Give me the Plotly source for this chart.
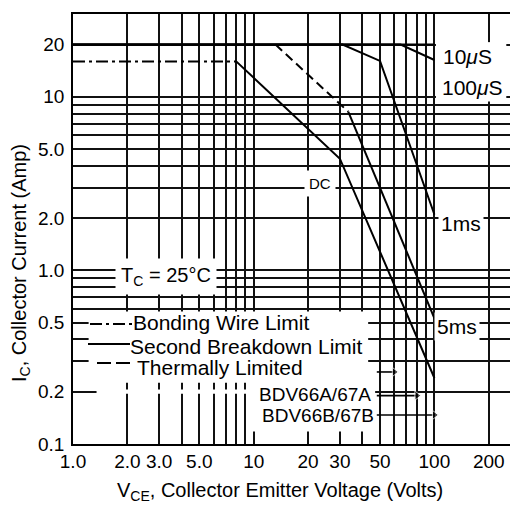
import math
import plotly.graph_objects as go

# ---------------- data ----------------
# Bonding-wire limit (DC, dash-dot)
bw_v = [1, 8]
bw_i = [16, 16]
# DC curve (solid) after the bonding wire limit
dc_v = [8, 30, 100]
dc_i = [16, 4.4, 0.24]
# 5 ms: thermally limited (dashed) then second breakdown (solid)
ms5_th_v = [13.2, 33.4]
ms5_th_i = [20, 8.2]
ms5_sb_v = [33.4, 100]
ms5_sb_i = [8.2, 0.53]
# 1 ms
ms1_v = [1, 31, 50, 100]
ms1_i = [20, 20, 16.1, 2.1]
# 10 us
us10_v = [1, 65, 100]
us10_i = [20, 20, 16.3]
# 100 us (pulsed current limit)
us100_v = [1, 100]
us100_i = [20, 20]
# BDV voltage-rating arrows
bdv_start_v = 48
bdv_end_v = [60, 80, 100]
bdv_i = [0.26, 0.19, 0.147]

# tick labels
x_tickvals = [1, 2, 3, 4, 5, 6, 7, 8, 9, 10, 20, 30, 40, 50, 60, 70, 80, 90, 100, 200]
x_ticktext = ["1.0", "2.0", "3.0", "", "5.0", "", "", "", "", "10", "20", "30", "", "50",
              "", "", "", "", "100", "200"]
y_tickvals = [0.1, 0.2, 0.3, 0.4, 0.5, 0.6, 0.7, 0.8, 0.9, 1, 2, 3, 4, 5, 6, 7, 8, 9, 10, 20]
y_ticktext = ["0.1", "0.2", "", "", "0.5", "", "", "", "", "1.0", "2.0", "", "", "5.0",
              "", "", "", "", "10", "20"]

# ---------------- layout geometry (page pixels; page body has an 8px margin) ----------------
OFF = 8
W, H = 518 - OFF, 510 - OFF
PL, PR, PT, PB = 73, 518, 14, 444   # plot area in page pixels
FONT = "Liberation Sans, Arial, sans-serif"


def xp(px):
    return (px - PL) / (PR - PL)


def yp(py):
    return (PB - py) / (PB - PT)


fig = go.Figure()

LW = 2
def add_line(v, i, dash="solid"):
    fig.add_trace(go.Scatter(x=v, y=i, mode="lines",
                             line=dict(color="black", width=LW, dash=dash),
                             hoverinfo="skip", showlegend=False))

add_line(bw_v, bw_i, "12px,4px,3px,4px")
add_line(dc_v, dc_i)
add_line(ms5_th_v, ms5_th_i, "9px,5px")
add_line(ms5_sb_v, ms5_sb_i)
add_line(ms1_v, ms1_i)
add_line(us10_v, us10_i)
add_line(us100_v, us100_i)

for v_end, i in zip(bdv_end_v, bdv_i):
    fig.add_trace(go.Scatter(x=[bdv_start_v, v_end], y=[i, i], mode="lines+markers",
                             line=dict(color="black", width=1.6),
                             marker=dict(symbol="triangle-right", size=[0, 8], color="black"),
                             hoverinfo="skip", showlegend=False))

shapes = []
# white blank areas over the grid (between grid and traces)
def wbox(x0, x1, y0, y1):
    shapes.append(dict(type="rect", xref="x", yref="y", x0=x0, x1=x1, y0=y0, y1=y1,
                       fillcolor="white", line=dict(width=0), layer="between"))

wbox(1.22, 43, 0.225, 0.58)      # legend area
wbox(1.35, 9.3, 0.195, 0.206)    # 0.2 line under legend
wbox(9.2, 47, 0.118, 0.235)      # BDV labels
wbox(102, 250, 9.7, 20.6)        # 10us / 100us labels

# legend samples (paper coords)
def sample(x0, x1, y, dash):
    shapes.append(dict(type="line", xref="paper", yref="paper", x0=xp(x0), x1=xp(x1),
                       y0=yp(y), y1=yp(y), line=dict(color="black", width=2, dash=dash),
                       layer="above"))

sample(90, 133, 324, "12px,4px,3px,4px")
sample(88, 130, 344, "solid")
sample(97, 134, 363, "14px,5px")

ann = []
def label(text, x, y, size=20, xanchor="left", bg=None, pad=1, angle=0):
    a = dict(text=text, xref="paper", yref="paper", x=xp(x), y=yp(y), xanchor=xanchor,
             yanchor="middle", showarrow=False, textangle=angle,
             font=dict(family=FONT, size=size, color="black"), borderpad=pad)
    if bg:
        a["bgcolor"] = bg
    ann.append(a)

label("10<i>μ</i>S", 440, 56, 21, bg="white", pad=2)
label("100<i>μ</i>S", 439, 87, 21, bg="white", pad=2)
label("1ms", 438, 223, 21, bg="white", pad=2)
label("5ms", 434, 326, 21, bg="white", pad=2)
label("DC", 320, 183, 15, xanchor="center", bg="white", pad=4)
label("T<sub>C</sub> = 25°C", 115, 276, 20, bg="white", pad=5)
label("Bonding Wire Limit", 131, 322, 21)
label("Second Breakdown Limit", 128, 346, 21)
label("Thermally Limited", 135, 367, 21)
label("BDV66A/67A", 372, 394, 19, xanchor="right", pad=0)
label("BDV66B/67B", 375, 415, 19, xanchor="right", pad=0)
# axis titles
label("V<sub>CE</sub>, Collector Emitter Voltage (Volts)", 280, 491, 20, xanchor="center")
label("I<sub>C</sub>, Collector Current (Amp)", 20, 263, 20, xanchor="center", angle=-90)

axis_common = dict(type="log", showgrid=True, gridcolor="#111111", gridwidth=1.5,
                   zeroline=False, ticks="", showline=True, linecolor="black",
                   linewidth=1.6, automargin=False,
                   tickfont=dict(family=FONT, size=19, color="black"))

fig.update_layout(
    width=W, height=H,
    margin=dict(l=PL - OFF, r=0, t=PT - OFF, b=H - (PB - OFF), pad=0),
    paper_bgcolor="white", plot_bgcolor="white",
    xaxis=dict(axis_common, range=[0, (PR - PL) / 180.7], tickvals=x_tickvals,
               ticktext=x_ticktext, mirror=True, ticklabelstandoff=-1),
    yaxis=dict(axis_common, range=[-1, math.log10(30)], tickvals=y_tickvals,
               ticktext=y_ticktext, ticklabelstandoff=3),
    shapes=shapes, annotations=ann, showlegend=False,
)

fig.write_html("out.html")
